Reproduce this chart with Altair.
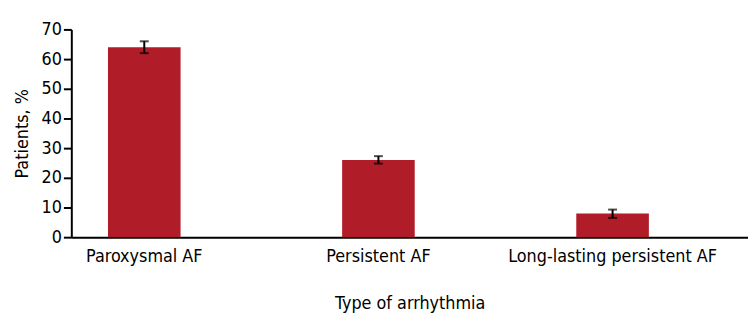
import altair as alt
import pandas as pd

categories = ["Paroxysmal AF", "Persistent AF", "Long-lasting persistent AF"]
values = [64, 26, 8]
err_low = [62, 24.8, 6.5]
err_high = [66, 27.3, 9.3]

df = pd.DataFrame({"type": categories, "value": values, "lo": err_low, "hi": err_high})

FONT = "Liberation Sans Narrow, DejaVu Sans Condensed, sans-serif"

xaxis = alt.Axis(title="Type of arrhythmia", labelAngle=0, ticks=False,
                 labelPadding=11, titlePadding=29, domainColor="black",
                 domainWidth=2, labelFontSize=18, titleFontSize=18, labelLimit=400,
                 labelColor="black", titleColor="black",
                 titleFontWeight="normal", labelFont=FONT, titleFont=FONT)
xscale = alt.Scale(paddingInner=0.69, paddingOuter=0.29, align=0.27)
yaxis = alt.Axis(title="Patients, %", values=[0, 10, 20, 30, 40, 50, 60, 70],
                 labelOverlap=False, grid=False, tickSize=8, tickColor="black", tickWidth=2,
                 domainColor="black", domainWidth=2, labelPadding=2,
                 labelFontSize=18, titleFontSize=18, labelColor="black",
                 titleColor="black", titleFontWeight="normal",
                 titlePadding=10, labelFont=FONT, titleFont=FONT)
yscale = alt.Scale(domain=[0, 70])

def X():
    return alt.X("type:N", sort=categories, scale=xscale, axis=xaxis)

bars = alt.Chart(df).mark_bar(color="#B01C28").encode(
    x=X(), y=alt.Y("value:Q", scale=yscale, axis=yaxis))

rules = alt.Chart(df).mark_rule(color="black", strokeWidth=2).encode(
    x=X(), y=alt.Y("lo:Q", scale=yscale, axis=yaxis), y2="hi:Q")
caps_lo = alt.Chart(df).mark_tick(color="black", thickness=2, size=9, orient="horizontal").encode(
    x=X(), y=alt.Y("lo:Q", scale=yscale, axis=yaxis))
caps_hi = alt.Chart(df).mark_tick(color="black", thickness=2, size=9, orient="horizontal").encode(
    x=X(), y=alt.Y("hi:Q", scale=yscale, axis=yaxis))

chart = alt.layer(bars, rules, caps_lo, caps_hi).properties(
    width=684, height=210,
    autosize=alt.AutoSizeParams(type="none"),
    padding={"left": 64, "top": 20, "right": 0, "bottom": 77},
).configure_view(stroke=None)

chart.save("out.html", embed_options={"renderer": "svg", "actions": False})
